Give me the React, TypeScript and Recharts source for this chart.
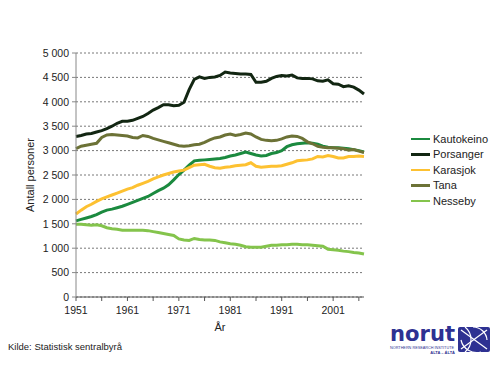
import { CartesianGrid, Line, LineChart, XAxis, YAxis } from "recharts";

const years = [
  1951, 1952, 1953, 1954, 1955, 1956, 1957, 1958, 1959, 1960,
  1961, 1962, 1963, 1964, 1965, 1966, 1967, 1968, 1969, 1970,
  1971, 1972, 1973, 1974, 1975, 1976, 1977, 1978, 1979, 1980,
  1981, 1982, 1983, 1984, 1985, 1986, 1987, 1988, 1989, 1990,
  1991, 1992, 1993, 1994, 1995, 1996, 1997, 1998, 1999, 2000,
  2001, 2002, 2003, 2004, 2005, 2006, 2007,
];

const kautokeino = [
  1560, 1590, 1620, 1650, 1690, 1740, 1780, 1800, 1830, 1860,
  1900, 1940, 1980, 2020, 2060, 2120, 2180, 2230, 2300, 2400,
  2510, 2600, 2700, 2790, 2800, 2810, 2820, 2830, 2840, 2860,
  2890, 2910, 2940, 2970, 2940, 2910, 2890, 2900, 2940, 2960,
  3000, 3080, 3120, 3140, 3150, 3160, 3150, 3130, 3090, 3070,
  3060, 3060, 3050, 3040, 3020, 3000, 2970,
];

const porsanger = [
  3290, 3310, 3340, 3350, 3380, 3410, 3450, 3500, 3560, 3600,
  3600, 3620, 3660, 3700, 3760, 3830, 3880, 3940, 3940, 3920,
  3930, 3990, 4250, 4460, 4510, 4480, 4500, 4510, 4540, 4610,
  4590, 4580, 4570, 4570, 4560, 4400, 4400, 4420, 4480, 4520,
  4540, 4530, 4550, 4490, 4480, 4480, 4470, 4430, 4420, 4450,
  4370, 4360, 4310, 4330, 4300, 4240, 4160,
];

const karasjok = [
  1700, 1780, 1850, 1900, 1960, 2010, 2050, 2090, 2130, 2170,
  2210, 2240, 2290, 2330, 2370, 2420, 2460, 2500, 2530, 2560,
  2580, 2600, 2650, 2700, 2710, 2720, 2680, 2650, 2640, 2660,
  2670, 2690, 2700, 2710, 2750, 2680, 2660, 2670, 2680, 2680,
  2690, 2720, 2750, 2790, 2800, 2810, 2830, 2880, 2870, 2900,
  2880, 2850, 2850, 2880, 2880, 2890, 2880,
];

const tana = [
  3040, 3090, 3110, 3130, 3150, 3270, 3320, 3330, 3320, 3310,
  3300, 3270, 3260, 3310, 3290, 3250, 3220, 3190, 3160, 3130,
  3100, 3090, 3100, 3120, 3130, 3170, 3220, 3260, 3280, 3320,
  3340, 3310, 3330, 3360, 3340, 3280, 3230, 3210, 3200, 3210,
  3240, 3280, 3300, 3290, 3250, 3180, 3140, 3090, 3070, 3060,
  3060, 3050, 3040, 3010, 3020, 2990, 2960,
];

const nesseby = [
  1490, 1490, 1480, 1470, 1480, 1460, 1420, 1400, 1390, 1370,
  1370, 1370, 1370, 1370, 1360, 1340, 1320, 1300, 1280, 1260,
  1190, 1170, 1160, 1200, 1180, 1170, 1170, 1160, 1130, 1110,
  1090, 1080, 1060, 1030, 1020, 1020, 1020, 1040, 1060, 1060,
  1070, 1070, 1080, 1080, 1070, 1070, 1060, 1050, 1040, 980,
  970, 960, 940, 930, 910, 900, 880,
];

const xTicks = [1951, 1956, 1961, 1966, 1971, 1976, 1981, 1986, 1991, 1996, 2001, 2006];
const yTicks = [0, 500, 1000, 1500, 2000, 2500, 3000, 3500, 4000, 4500, 5000];

const series = [
  { key: "Kautokeino", values: kautokeino, color: "#1b8a3f" },
  { key: "Porsanger", values: porsanger, color: "#122612" },
  { key: "Karasjok", values: karasjok, color: "#fdc131" },
  { key: "Tana", values: tana, color: "#6c7236" },
  { key: "Nesseby", values: nesseby, color: "#84c44c" },
];

const data = years.map((year, i) => {
  const row: Record<string, number> = { year };
  series.forEach((s) => {
    row[s.key] = s.values[i];
  });
  return row;
});

const FONT = "'Liberation Sans', Arial, sans-serif";

function formatThousands(v: number) {
  if (v < 1000) return String(v);
  return `${Math.floor(v / 1000)} ${String(v % 1000).padStart(3, "0")}`;
}

function YearTick(props: any) {
  const { x, y, payload } = props;
  if ((payload.value - 1951) % 10 !== 0) return <g />;
  return (
    <text x={x} y={y} dy={11} textAnchor="middle" fontSize={10.5} fill="#222" fontFamily={FONT}>
      {payload.value}
    </text>
  );
}

// legend kept outside the chart so it doesn't eat into the plot width
function LegendList() {
  return (
    <div style={{ position: "absolute", left: 411, top: 131, fontFamily: FONT, fontSize: 11, color: "#222" }}>
      {series.map((s) => (
        <div key={s.key} style={{ display: "flex", alignItems: "center", height: 15.5 }}>
          <span style={{ width: 19, height: 2.5, background: s.color, marginRight: 3 }} />
          <span>{s.key}</span>
        </div>
      ))}
    </div>
  );
}

function Logo() {
  const blue = "#2e3192";
  return (
    <svg width={110} height={40} style={{ position: "absolute", left: 385, top: 318 }}>
      <text x={5} y={23} fontSize={22} fontWeight="bold" fill={blue} fontFamily="'DejaVu Sans', sans-serif"
        textLength={65} lengthAdjust="spacingAndGlyphs">
        norut
      </text>
      <text x={5} y={31} fontSize={4} fill={blue} fontFamily={FONT} textLength={64} lengthAdjust="spacingAndGlyphs">
        NORTHERN RESEARCH INSTITUTE
      </text>
      <text x={70} y={36} fontSize={4} fontWeight="bold" fill={blue} fontFamily={FONT} textAnchor="end">
        ALTA – ÁLTÁ
      </text>
      <rect x={73} y={9} width={32} height={25} rx={2} fill={blue} />
      <g stroke="#fff" strokeWidth={1.2} fill="none">
        <path d="M76 12 L102 31" />
        <path d="M76 31 L102 12" />
        <path d="M80 9 A16 16 0 0 1 80 34" />
        <path d="M88 9 A14 14 0 0 1 102 22" />
        <path d="M76 22 A16 16 0 0 0 96 34" />
      </g>
    </svg>
  );
}

export default function App() {
  return (
    <div style={{ position: "absolute", left: 0, top: 0, width: 500, height: 371, background: "#fff" }}>
      <LineChart width={500} height={371} data={data} margin={{ top: 53, right: 136, left: 0, bottom: 0 }}>
        <CartesianGrid vertical={false} stroke="#555" strokeDasharray="2 2" strokeWidth={0.8} />
        <XAxis
          dataKey="year"
          type="number"
          domain={[1951, 2007]}
          ticks={xTicks}
          height={74}
          tickSize={4}
          tickMargin={2}
          stroke="#555"
          tick={<YearTick />}
          interval={0}
          label={{ value: "År", position: "insideBottom", offset: 40, fontSize: 11, fill: "#222", fontFamily: FONT }}
        />
        <YAxis
          domain={[0, 5000]}
          ticks={yTicks}
          width={76}
          tickSize={4}
          tickMargin={3}
          stroke="#888"
          interval={0}
          tickFormatter={formatThousands}
          tick={{ fontSize: 10.5, fill: "#222", fontFamily: FONT }}
          label={{
            value: "Antall personer",
            angle: -90,
            position: "insideLeft",
            offset: 30,
            fontSize: 11,
            fill: "#222",
            fontFamily: FONT,
            style: { textAnchor: "middle" },
          }}
        />
        {series.map((s) => (
          <Line
            key={s.key}
            dataKey={s.key}
            type="linear"
            stroke={s.color}
            strokeWidth={3}
            dot={false}
            isAnimationActive={false}
          />
        ))}
      </LineChart>
      <LegendList />
      <div style={{ position: "absolute", left: 8, top: 341, fontFamily: FONT, fontSize: 9.5, color: "#222" }}>
        Kilde: Statistisk sentralbyrå
      </div>
      <Logo />
    </div>
  );
}
